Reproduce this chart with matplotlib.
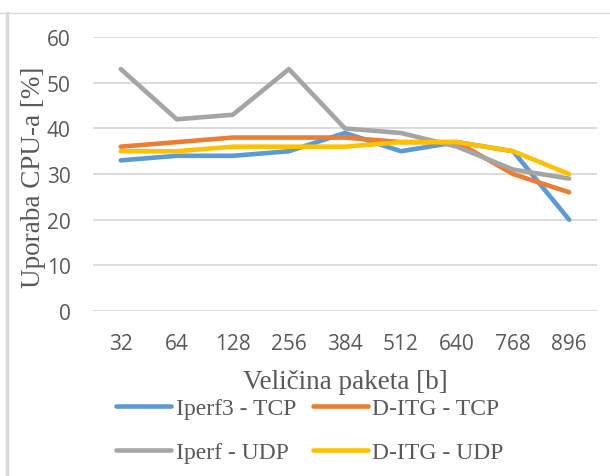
import matplotlib
matplotlib.use("Agg")
import matplotlib.pyplot as plt
from matplotlib.lines import Line2D

categories = ["32", "64", "128", "256", "384", "512", "640", "768", "896"]
iperf3_tcp = [33, 34, 34, 35, 39, 35, 37, 35, 20]
ditg_tcp = [36, 37, 38, 38, 38, 37, 37, 30, 26]
iperf_udp = [53, 42, 43, 53, 40, 39, 36, 31, 29]
ditg_udp = [35, 35, 36, 36, 36, 37, 37, 35, 30]
series_names = ["Iperf3 - TCP", "D-ITG - TCP", "Iperf - UDP", "D-ITG - UDP"]
colors = ["#5B9BD5", "#ED7D31", "#A5A5A5", "#FFC000"]
yticks = [0, 10, 20, 30, 40, 50, 60]

fig = plt.figure(figsize=(6.1, 4.77), dpi=100)
ax_rect = [0.152, 0.346, 0.827, 0.574]
ax = fig.add_axes(ax_rect)

x = list(range(len(categories)))
data = [iperf3_tcp, ditg_tcp, iperf_udp, ditg_udp]
for i in range(4):
    ax.plot(x, data[i], color=colors[i], lw=3.3, solid_capstyle="round",
            solid_joinstyle="round", label=series_names[i], zorder=3)

ax.set_xlim(-0.5, len(categories) - 0.5)
ax.set_ylim(0, 60)
ax.set_yticks(yticks)
ax.set_xticks(x)
ax.set_xticklabels(categories)
ax.grid(axis="y", color="#D9D9D9", lw=1.3, zorder=0)
for s in ax.spines.values():
    s.set_visible(False)
ax.tick_params(length=0, labelsize=15, labelcolor="#595959")
for lab in ax.get_xticklabels() + ax.get_yticklabels():
    lab.set_family("Open Sans")
ax.tick_params(axis="y", pad=16)
ax.tick_params(axis="x", pad=16)

ax.set_ylabel("Uporaba CPU-a [%]", family="Liberation Serif", fontsize=19.5,
              color="#595959")
ax.yaxis.set_label_coords(-0.092, 0.49)
fig.text(ax_rect[0] + ax_rect[2] / 2, 0.199, "Veličina paketa [b]",
         family="Liberation Serif", fontsize=19.5, color="#595959",
         ha="center", va="center")

handles = [Line2D([0], [0], color=c, lw=3.3, solid_capstyle="round") for c in colors]
leg_order = [0, 2, 1, 3]
leg = fig.legend([handles[i] for i in leg_order], [series_names[i] for i in leg_order],
                 loc="center", ncol=2,
                 bbox_to_anchor=(0.508, 0.096), frameon=False,
                 prop={"family": "Liberation Serif", "size": 17},
                 handlelength=2.33, handletextpad=0.17, columnspacing=0.72,
                 labelspacing=0.95)
for t in leg.get_texts():
    t.set_color("#595959")

# chart frame (partial, as in reference)
fig.add_artist(Line2D([0.0, 1.0], [1 - 14 / 477, 1 - 14 / 477], color="#D9D9D9",
                      lw=1.0, transform=fig.transFigure))
fig.add_artist(Line2D([7 / 610, 7 / 610], [0, 1 - 14 / 477], color="#D9D9D9",
                      lw=2.5, transform=fig.transFigure))

fig.savefig("out.png", dpi=100)
